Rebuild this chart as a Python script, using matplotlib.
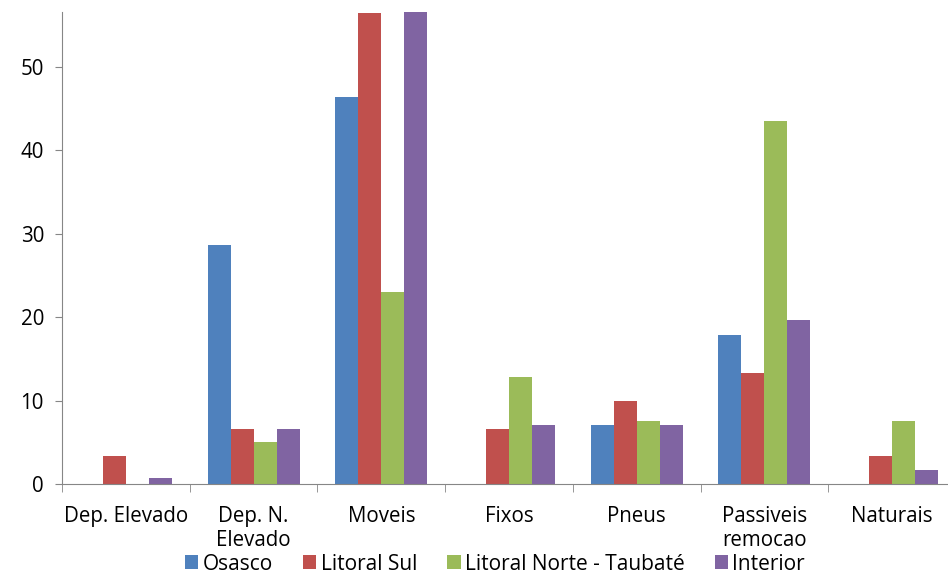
import numpy as np
import matplotlib.pyplot as plt

categories = ["Dep. Elevado", "Dep. N.\nElevado", "Moveis", "Fixos", "Pneus",
              "Passiveis\nremocao", "Naturais"]
series_names = ["Osasco", "Litoral Sul", "Litoral Norte - Taubaté", "Interior"]
osasco = [0, 28.6, 46.4, 0, 7.1, 17.9, 0]
litoral_sul = [3.3, 6.6, 56.5, 6.6, 10.0, 13.3, 3.3]
litoral_norte = [0, 5.0, 23.0, 12.8, 7.6, 43.5, 7.6]
interior = [0.7, 6.6, 56.7, 7.1, 7.1, 19.7, 1.7]

colors = ["#4F81BD", "#C0504D", "#9BBB59", "#8064A2"]
series = [osasco, litoral_sul, litoral_norte, interior]

plt.rcParams['font.family'] = ['Open Sans', 'DejaVu Sans']

fig = plt.figure(figsize=(9.48, 5.74), dpi=100)
ax = fig.add_axes([62/948, 1 - 484/574, 894/948, 472/574])

x = np.arange(len(categories))
w = 0.18
for i, (vals, name, c) in enumerate(zip(series, series_names, colors)):
    ax.bar(x + (i - 1.5) * w, vals, width=w, color=c, label=name)

ax.set_xlim(-0.5, len(categories) - 0.5)
ax.set_ylim(0, 56.6)
ax.set_yticks([0, 10, 20, 30, 40, 50])
ax.set_xticks(x)
ax.set_xticklabels(categories, fontsize=14.8, linespacing=1.2)
ax.set_xticks(np.arange(-0.5, len(categories)), minor=True)
ax.tick_params(axis='x', which='major', length=0, pad=16)
ax.tick_params(axis='x', which='minor', length=6, color='#868686', direction='out')
ax.tick_params(axis='y', labelsize=14.8, length=5, color='#868686', pad=8)

for s in ['top', 'right']:
    ax.spines[s].set_visible(False)
for s in ['left', 'bottom']:
    ax.spines[s].set_color('#868686')

fig.legend(loc='center', bbox_to_anchor=(0.522, 1 - 564/574), ncol=4, frameon=False,
           fontsize=15, handlelength=0.65, handleheight=0.65, handletextpad=0.2,
           columnspacing=1.45, borderpad=0)

fig.savefig("out.png", dpi=100)
